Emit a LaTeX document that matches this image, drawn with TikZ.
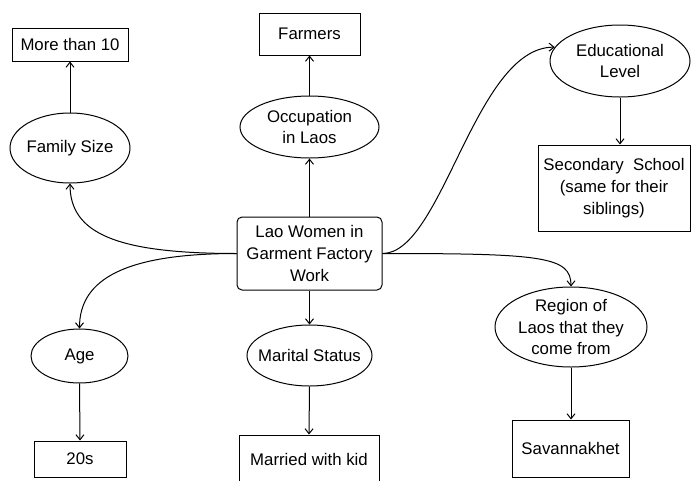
\documentclass[tikz,border=0pt]{standalone}
\usepackage{fontspec}
\setmainfont{Liberation Sans}
\usetikzlibrary{shapes.geometric,arrows.meta}
\begin{document}
\begin{tikzpicture}[x=1pt,y=-1pt,
  txt/.style={font=\fontsize{16.8}{21.7}\selectfont, align=center, inner sep=0pt},
  valbox/.style={txt, rectangle, draw, line width=1pt},
  hub/.style={valbox, rounded corners=5pt},
  attr/.style={ellipse, draw, line width=1pt, inner sep=0pt},
  link/.style={-{Straight Barb[length=5pt,width=8pt]}, line width=1pt}
]
\fill[white] (0,0) rectangle (691,480);
\useasboundingbox (0,0) rectangle (691,480);

% central topic
\node[hub, minimum width=145pt, minimum height=73pt] (c) at (309.5,253.5)
  {Lao Women in\\Garment Factory\\Work};

% attributes (ellipses) with their values (boxes)
\node[attr, minimum width=120pt, minimum height=70pt,
  label={[txt]center:Family Size}] (fam) at (70,148) {};
\node[valbox, minimum width=116pt, minimum height=33pt] (more) at (70,44.5) {More than 10};

\node[attr, minimum width=139pt, minimum height=62pt,
  label={[txt]center:Occupation\\in Laos}] (occ) at (309.5,127) {};
\node[valbox, minimum width=101pt, minimum height=42pt] (farm) at (309.5,34) {Farmers};

\node[attr, minimum width=140pt, minimum height=72pt,
  label={[txt]center:Educational\\Level}] (ed) at (620,61) {};
\node[valbox, minimum width=152pt, minimum height=86pt] (sec) at (614,188)
  {Secondary~~School\\(same for their\\siblings)};

\node[attr, minimum width=97pt, minimum height=54pt,
  label={[txt]center:Age}] (age) at (79.5,356) {};
\node[valbox, minimum width=92pt, minimum height=36pt] (twenty) at (80,459) {20s};

\node[attr, minimum width=125pt, minimum height=61pt,
  label={[txt]center:Marital Status}] (mar) at (309.5,355.5) {};
\node[valbox, minimum width=140pt, minimum height=48pt] (married) at (309,459) {Married with kid};

\node[attr, minimum width=152pt, minimum height=80pt,
  label={[txt]center:Region of\\Laos that they\\come from}] (reg) at (571,327) {};
\node[valbox, minimum width=117pt, minimum height=57pt] (sav) at (570.5,448.5) {Savannakhet};

% straight connectors
\draw[link] (fam.north) -- (more.south);
\draw[link] (c.north) -- (occ.south);
\draw[link] (occ.north) -- (farm.south);
\draw[link] (c.south) -- (mar.north);
\draw[link] (mar.south) -- (married.north);
\draw[link] (age.south) -- (twenty.north);
\draw[link] (ed.south) -- (ed.south |- sec.north);
\draw[link] (reg.south) -- (reg.south |- sav.north);

% curved connectors from the central topic
\draw[link] (c.west) .. controls +(-120,0) and +(0,50) .. (fam.south);
\draw[link] (c.west) .. controls +(-110,0) and +(0,-50) .. (age.north);
\draw[link] (c.east) .. controls +(60,0) and +(-80,0) .. (ed.168);
\draw[link] (c.east) .. controls +(160,0) and +(0,-30) .. (reg.north);
\end{tikzpicture}
\end{document}
